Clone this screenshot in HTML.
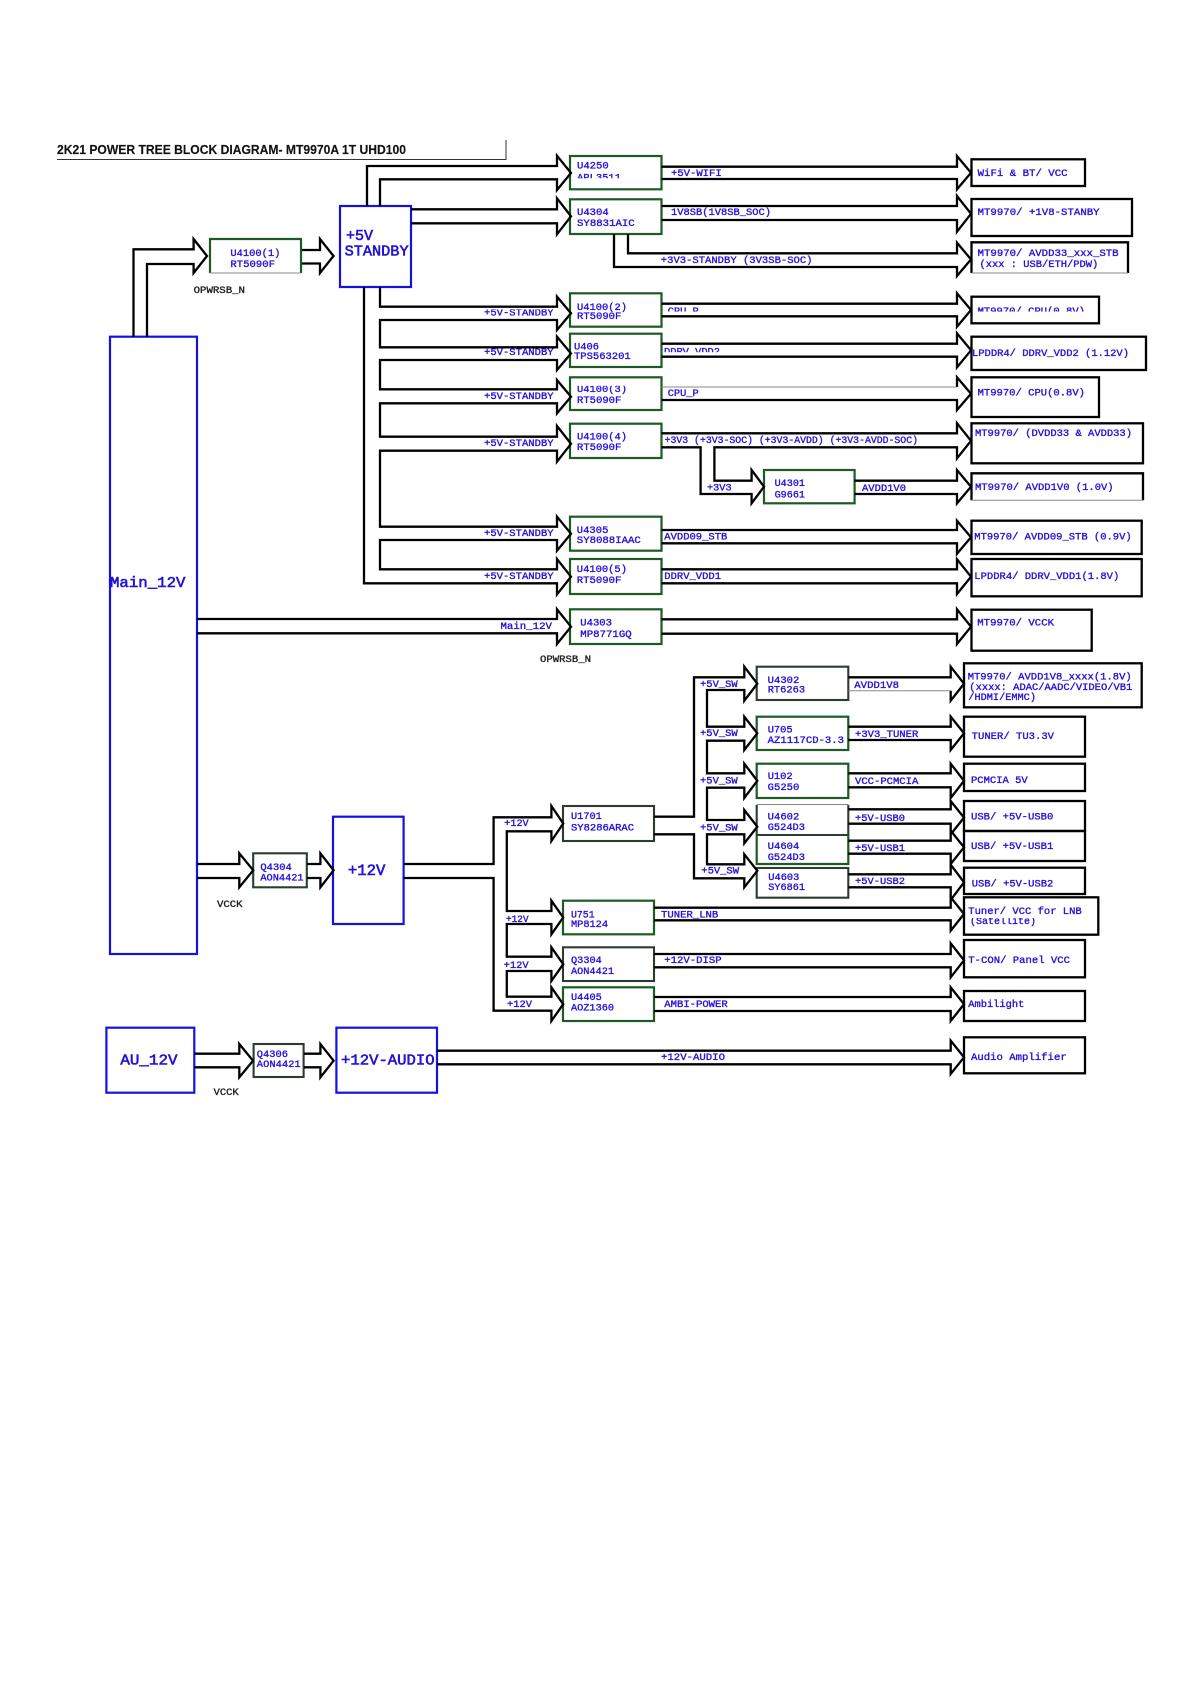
<!DOCTYPE html>
<html><head><meta charset="utf-8"><style>
html,body{margin:0;padding:0;background:#fff}
svg{display:block}
text{font-family:"Liberation Mono",monospace;font-size:10.5px;fill:#2412d6;stroke:#2412d6;stroke-width:.35}
text.k{fill:#222;stroke:#222}
text.b{font-size:15px;stroke-width:.6}
text.t{font-family:"Liberation Sans",sans-serif;font-weight:bold;font-size:12.5px;fill:#111;stroke:#111;stroke-width:.15}
.w{fill:#fff;stroke:none}
.a{fill:none;stroke:#000;stroke-width:2.3;stroke-linejoin:miter}
.bl{fill:none;stroke:#1512e0;stroke-width:2.2}
.g{fill:none;stroke:#1d5a24;stroke-width:2.2}
.d{fill:none;stroke:#2c3d30;stroke-width:2.1}
.n{fill:none;stroke:#000;stroke-width:2.3}
.th{fill:none;stroke:#888;stroke-width:1}
</style></head><body>
<svg width="1191" height="1684" viewBox="0 0 1191 1684" xmlns="http://www.w3.org/2000/svg">
<rect width="1191" height="1684" fill="#fff"/>
<text class="t" x="57" y="154" textLength="349" lengthAdjust="spacingAndGlyphs">2K21 POWER TREE BLOCK DIAGRAM- MT9970A 1T UHD100</text>

<!-- left -->
<text x="230.4" y="256" textLength="50" lengthAdjust="spacingAndGlyphs">U4100(1)</text>
<text x="230.4" y="267" textLength="44.6" lengthAdjust="spacingAndGlyphs">RT5090F</text>
<text class="k" x="193.6" y="293" textLength="51.4" lengthAdjust="spacingAndGlyphs">OPWRSB_N</text>
<text class="b" x="346" y="240" textLength="27" lengthAdjust="spacingAndGlyphs">+5V</text>
<text class="b" x="344.6" y="255.5" textLength="64" lengthAdjust="spacingAndGlyphs">STANDBY</text>
<text class="b" x="110" y="587" textLength="75.5" lengthAdjust="spacingAndGlyphs">Main_12V</text>
<text x="484" y="315.7" textLength="69.6" lengthAdjust="spacingAndGlyphs">+5V-STANDBY</text>
<text x="484" y="355.2" textLength="69.6" lengthAdjust="spacingAndGlyphs">+5V-STANDBY</text>
<text x="484" y="399.2" textLength="69.6" lengthAdjust="spacingAndGlyphs">+5V-STANDBY</text>
<text x="484" y="446.2" textLength="69.6" lengthAdjust="spacingAndGlyphs">+5V-STANDBY</text>
<text x="484" y="536.2" textLength="69.6" lengthAdjust="spacingAndGlyphs">+5V-STANDBY</text>
<text x="484" y="579.2" textLength="69.6" lengthAdjust="spacingAndGlyphs">+5V-STANDBY</text>
<text x="500.5" y="629.2" textLength="51.5" lengthAdjust="spacingAndGlyphs">Main_12V</text>
<text class="k" x="540" y="662.2" textLength="51" lengthAdjust="spacingAndGlyphs">OPWRSB_N</text>

<!-- column 570 -->
<text x="577" y="168.5" textLength="31.7" lengthAdjust="spacingAndGlyphs">U4250</text>
<text x="577" y="180.5" textLength="44" lengthAdjust="spacingAndGlyphs">APL3511</text>
<text x="577" y="215.2" textLength="31.7" lengthAdjust="spacingAndGlyphs">U4304</text>
<text x="577" y="226.2" textLength="57.7" lengthAdjust="spacingAndGlyphs">SY8831AIC</text>
<text x="577" y="309.8" textLength="50" lengthAdjust="spacingAndGlyphs">U4100(2)</text>
<text x="577" y="319.2" textLength="44.3" lengthAdjust="spacingAndGlyphs">RT5090F</text>
<text x="574" y="349.5" textLength="25" lengthAdjust="spacingAndGlyphs">U406</text>
<text x="574" y="359.2" textLength="56.7" lengthAdjust="spacingAndGlyphs">TPS563201</text>
<text x="577" y="392" textLength="50" lengthAdjust="spacingAndGlyphs">U4100(3)</text>
<text x="577" y="402.8" textLength="44.3" lengthAdjust="spacingAndGlyphs">RT5090F</text>
<text x="577" y="439.5" textLength="50" lengthAdjust="spacingAndGlyphs">U4100(4)</text>
<text x="577" y="450.2" textLength="44.3" lengthAdjust="spacingAndGlyphs">RT5090F</text>
<text x="774.6" y="486.2" textLength="30.4" lengthAdjust="spacingAndGlyphs">U4301</text>
<text x="774.6" y="497.5" textLength="30.4" lengthAdjust="spacingAndGlyphs">G9661</text>
<text x="576.8" y="532.8" textLength="31.6" lengthAdjust="spacingAndGlyphs">U4305</text>
<text x="576.8" y="543.2" textLength="64" lengthAdjust="spacingAndGlyphs">SY8088IAAC</text>
<text x="576.8" y="572.2" textLength="50.2" lengthAdjust="spacingAndGlyphs">U4100(5)</text>
<text x="576.8" y="582.8" textLength="44.6" lengthAdjust="spacingAndGlyphs">RT5090F</text>
<text x="580.3" y="625.5" textLength="31.7" lengthAdjust="spacingAndGlyphs">U4303</text>
<text x="580.3" y="636.8" textLength="51.4" lengthAdjust="spacingAndGlyphs">MP8771GQ</text>

<!-- rail labels -->
<text x="671" y="175.8" textLength="50.7" lengthAdjust="spacingAndGlyphs">+5V-WIFI</text>
<text x="671" y="215.2" textLength="100" lengthAdjust="spacingAndGlyphs">1V8SB(1V8SB_SOC)</text>
<text x="660.8" y="262.8" textLength="151.7" lengthAdjust="spacingAndGlyphs">+3V3-STANDBY  (3V3SB-SOC)</text>
<text x="667.7" y="314" textLength="31" lengthAdjust="spacingAndGlyphs">CPU_P</text>
<text x="664" y="354.5" textLength="56" lengthAdjust="spacingAndGlyphs">DDRV_VDD2</text>
<text x="667.7" y="395.8" textLength="31" lengthAdjust="spacingAndGlyphs">CPU_P</text>
<text x="664.6" y="442.8" textLength="253.4" lengthAdjust="spacingAndGlyphs">+3V3 (+3V3-SOC) (+3V3-AVDD) (+3V3-AVDD-SOC)</text>
<text x="707" y="490.5" textLength="24.6" lengthAdjust="spacingAndGlyphs">+3V3</text>
<text x="862" y="491.2" textLength="44" lengthAdjust="spacingAndGlyphs">AVDD1V0</text>
<text x="664.3" y="539.5" textLength="63" lengthAdjust="spacingAndGlyphs">AVDD09_STB</text>
<text x="664.3" y="579.2" textLength="56.7" lengthAdjust="spacingAndGlyphs">DDRV_VDD1</text>

<!-- targets -->
<text x="977.6" y="175.8" textLength="90" lengthAdjust="spacingAndGlyphs">WiFi &amp; BT/ VCC</text>
<text x="977.6" y="215.2" textLength="122" lengthAdjust="spacingAndGlyphs">MT9970/ +1V8-STANBY</text>
<text x="977.6" y="255.8" textLength="141" lengthAdjust="spacingAndGlyphs">MT9970/ AVDD33_xxx_STB</text>
<text x="979.5" y="266.8" textLength="118.8" lengthAdjust="spacingAndGlyphs">(xxx : USB/ETH/PDW)</text>
<text x="977.6" y="314" textLength="107.4" lengthAdjust="spacingAndGlyphs">MT9970/ CPU(0.8V)</text>
<text x="972" y="355.8" textLength="157" lengthAdjust="spacingAndGlyphs">LPDDR4/ DDRV_VDD2  (1.12V)</text>
<text x="977.6" y="395.5" textLength="107.4" lengthAdjust="spacingAndGlyphs">MT9970/ CPU(0.8V)</text>
<text x="975" y="435.8" textLength="157" lengthAdjust="spacingAndGlyphs">MT9970/  (DVDD33 &amp; AVDD33)</text>
<text x="975" y="490.2" textLength="138.6" lengthAdjust="spacingAndGlyphs">MT9970/ AVDD1V0  (1.0V)</text>
<text x="974.3" y="539.5" textLength="157.4" lengthAdjust="spacingAndGlyphs">MT9970/ AVDD09_STB  (0.9V)</text>
<text x="974.3" y="579.2" textLength="145" lengthAdjust="spacingAndGlyphs">LPDDR4/ DDRV_VDD1(1.8V)</text>
<text x="977.3" y="625.5" textLength="76.7" lengthAdjust="spacingAndGlyphs">MT9970/ VCCK</text>

<!-- lower tree -->
<text x="767.7" y="682.8" textLength="31.6" lengthAdjust="spacingAndGlyphs">U4302</text>
<text x="767.7" y="692.5" textLength="37.5" lengthAdjust="spacingAndGlyphs">RT6263</text>
<text x="700" y="687.2" textLength="37.7" lengthAdjust="spacingAndGlyphs">+5V_SW</text>
<text x="700" y="736.2" textLength="37.7" lengthAdjust="spacingAndGlyphs">+5V_SW</text>
<text x="700" y="783.5" textLength="37.7" lengthAdjust="spacingAndGlyphs">+5V_SW</text>
<text x="700" y="830.5" textLength="37.7" lengthAdjust="spacingAndGlyphs">+5V_SW</text>
<text x="701.3" y="873.5" textLength="37.7" lengthAdjust="spacingAndGlyphs">+5V_SW</text>
<text x="854.3" y="687.8" textLength="44.7" lengthAdjust="spacingAndGlyphs">AVDD1V8</text>
<text x="967.7" y="679.5" textLength="164" lengthAdjust="spacingAndGlyphs">MT9970/ AVDD1V8_xxxx(1.8V)</text>
<text x="969.3" y="690.2" textLength="163" lengthAdjust="spacingAndGlyphs">(xxxx: ADAC/AADC/VIDEO/VB1</text>
<text x="968.3" y="700.2" textLength="67.7" lengthAdjust="spacingAndGlyphs">/HDMI/EMMC)</text>
<text x="767.7" y="732.5" textLength="25" lengthAdjust="spacingAndGlyphs">U705</text>
<text x="767.7" y="742.8" textLength="76.3" lengthAdjust="spacingAndGlyphs">AZ1117CD-3.3</text>
<text x="855" y="736.8" textLength="63.3" lengthAdjust="spacingAndGlyphs">+3V3_TUNER</text>
<text x="971.7" y="739.2" textLength="82.3" lengthAdjust="spacingAndGlyphs">TUNER/ TU3.3V</text>
<text x="767.7" y="779.2" textLength="25" lengthAdjust="spacingAndGlyphs">U102</text>
<text x="767.7" y="790.2" textLength="31.6" lengthAdjust="spacingAndGlyphs">G5250</text>
<text x="855" y="784.2" textLength="63.3" lengthAdjust="spacingAndGlyphs">VCC-PCMCIA</text>
<text x="971" y="782.8" textLength="56.7" lengthAdjust="spacingAndGlyphs">PCMCIA 5V</text>
<text x="767.7" y="819.5" textLength="31.6" lengthAdjust="spacingAndGlyphs">U4602</text>
<text x="767.7" y="830.2" textLength="37.3" lengthAdjust="spacingAndGlyphs">G524D3</text>
<text x="855" y="820.8" textLength="50" lengthAdjust="spacingAndGlyphs">+5V-USB0</text>
<text x="971" y="819.5" textLength="82.3" lengthAdjust="spacingAndGlyphs">USB/ +5V-USB0</text>
<text x="767.7" y="849.2" textLength="31.6" lengthAdjust="spacingAndGlyphs">U4604</text>
<text x="767.7" y="860.2" textLength="37.3" lengthAdjust="spacingAndGlyphs">G524D3</text>
<text x="855" y="850.8" textLength="50" lengthAdjust="spacingAndGlyphs">+5V-USB1</text>
<text x="971" y="849.2" textLength="82.3" lengthAdjust="spacingAndGlyphs">USB/ +5V-USB1</text>
<text x="768.3" y="880.2" textLength="31" lengthAdjust="spacingAndGlyphs">U4603</text>
<text x="768.3" y="890.2" textLength="36.7" lengthAdjust="spacingAndGlyphs">SY6861</text>
<text x="855" y="884" textLength="50" lengthAdjust="spacingAndGlyphs">+5V-USB2</text>
<text x="971.7" y="886.5" textLength="81.6" lengthAdjust="spacingAndGlyphs">USB/ +5V-USB2</text>
<text x="968.3" y="914.2" textLength="113.4" lengthAdjust="spacingAndGlyphs">Tuner/ VCC for LNB</text>
<text x="970" y="924" textLength="66" lengthAdjust="spacingAndGlyphs">(Satellite)</text>
<text x="661" y="917.5" textLength="57.3" lengthAdjust="spacingAndGlyphs">TUNER_LNB</text>
<text x="664.3" y="962.8" textLength="57.4" lengthAdjust="spacingAndGlyphs">+12V-DISP</text>
<text x="968.3" y="962.8" textLength="101.7" lengthAdjust="spacingAndGlyphs">T-CON/ Panel VCC</text>
<text x="664.3" y="1006.8" textLength="63.4" lengthAdjust="spacingAndGlyphs">AMBI-POWER</text>
<text x="968.3" y="1006.8" textLength="56" lengthAdjust="spacingAndGlyphs">Ambilight</text>
<text x="661" y="1060.2" textLength="64" lengthAdjust="spacingAndGlyphs">+12V-AUDIO</text>
<text x="971" y="1060.2" textLength="95.7" lengthAdjust="spacingAndGlyphs">Audio Amplifier</text>

<text x="260.4" y="870.2" textLength="31.4" lengthAdjust="spacingAndGlyphs">Q4304</text>
<text x="260.4" y="880.5" textLength="43.2" lengthAdjust="spacingAndGlyphs">AON4421</text>
<text class="k" x="217" y="907.2" textLength="25.5" lengthAdjust="spacingAndGlyphs">VCCK</text>
<text class="b" x="347.9" y="875" textLength="37.5" lengthAdjust="spacingAndGlyphs" style="font-size:16px">+12V</text>
<text x="504.3" y="826.2" textLength="24.3" lengthAdjust="spacingAndGlyphs">+12V</text>
<text x="506" y="922" textLength="22.6" lengthAdjust="spacingAndGlyphs">+12V</text>
<text x="503.6" y="967.8" textLength="25" lengthAdjust="spacingAndGlyphs">+12V</text>
<text x="507" y="1006.8" textLength="25" lengthAdjust="spacingAndGlyphs">+12V</text>
<text x="571" y="819.2" textLength="30.8" lengthAdjust="spacingAndGlyphs">U1701</text>
<text x="571" y="830.5" textLength="63" lengthAdjust="spacingAndGlyphs">SY8286ARAC</text>
<text x="571" y="917.5" textLength="23.6" lengthAdjust="spacingAndGlyphs">U751</text>
<text x="571" y="926.8" textLength="37" lengthAdjust="spacingAndGlyphs">MP8124</text>
<text x="571" y="962.8" textLength="30.8" lengthAdjust="spacingAndGlyphs">Q3304</text>
<text x="571" y="973.8" textLength="43" lengthAdjust="spacingAndGlyphs">AON4421</text>
<text x="571" y="999.8" textLength="30.8" lengthAdjust="spacingAndGlyphs">U4405</text>
<text x="571" y="1010.5" textLength="43" lengthAdjust="spacingAndGlyphs">AOZ1360</text>
<text class="b" x="120.4" y="1064.5" textLength="57.1" lengthAdjust="spacingAndGlyphs">AU_12V</text>
<text x="256.8" y="1056.8" textLength="31.2" lengthAdjust="spacingAndGlyphs">Q4306</text>
<text x="256.8" y="1067.2" textLength="43.9" lengthAdjust="spacingAndGlyphs">AON4421</text>
<text class="k" x="213.6" y="1095.2" textLength="25" lengthAdjust="spacingAndGlyphs">VCCK</text>
<text class="b" x="341" y="1064.5" textLength="93.6" lengthAdjust="spacingAndGlyphs">+12V-AUDIO</text>

<!-- clipped text masks -->
<rect class="w" x="575" y="178.3" width="50" height="5"/>
<rect class="w" x="482" y="305" width="74" height="4.4"/>
<rect class="w" x="665" y="311.5" width="36" height="4"/>
<rect class="w" x="975" y="311.6" width="114" height="4.5"/>
<rect class="w" x="662" y="352.2" width="60" height="3.6"/>
<rect class="w" x="575" y="382" width="55" height="3.8"/>
<rect class="w" x="765" y="683.5" width="45" height="2.4"/>
<rect class="w" x="853" y="875.4" width="55" height="2.2"/>
<rect class="w" x="969" y="875.4" width="90" height="3"/>
<rect class="w" x="968" y="915.4" width="72" height="2.6"/>
<rect class="w" x="502" y="912" width="30" height="3.4"/>

<!-- header rule -->
<path d="M57 159.5H506V140" fill="none" stroke="#333" stroke-width="1"/>

<!-- blue blocks -->
<rect class="bl" x="340" y="206" width="71" height="81"/>
<rect class="bl" x="110" y="336.7" width="87" height="617.3"/>
<rect class="bl" x="333" y="816.7" width="70.6" height="107.3"/>
<rect class="bl" x="106.4" y="1027.7" width="87.9" height="65"/>
<rect class="bl" x="336.4" y="1027.7" width="100.6" height="65"/>

<!-- green blocks -->
<path class="g" d="M210 273V239H301V273"/><path class="th" d="M210 273H301"/>
<rect class="g" x="570" y="156" width="91.5" height="33.3"/>
<rect class="g" x="570" y="199.3" width="91.5" height="34.7"/>
<rect class="g" x="570" y="293.3" width="91.5" height="33.4"/>
<rect class="g" x="570" y="333.7" width="91.5" height="33.3"/>
<rect class="g" x="570" y="377.3" width="91.5" height="32.7"/>
<rect class="g" x="570" y="423.7" width="91.5" height="34.3"/>
<rect class="g" x="764" y="470" width="90.6" height="33.3"/>
<rect class="g" x="570" y="516.7" width="91.5" height="34"/>
<rect class="g" x="570" y="559" width="91.5" height="35"/>
<rect class="g" x="570" y="609.3" width="91.5" height="34.7"/>
<rect class="d" x="756.7" y="666.7" width="91.6" height="33.3"/>
<rect class="g" x="756.7" y="716.7" width="91.6" height="33.3"/>
<rect class="g" x="756.7" y="763.7" width="91.6" height="34.3"/>
<path class="d" d="M756.7 835V805M848.3 805V835H756.7"/><path class="th" d="M756.7 804.5H848.3"/>
<path class="g" d="M756.7 835V864H848.3V835"/>
<rect class="d" x="756.7" y="868" width="91.6" height="29.7"/>
<rect class="d" x="563" y="806" width="91" height="35"/>
<rect class="g" x="563" y="900.7" width="91" height="33.6"/>
<rect class="d" x="563" y="947.3" width="91" height="33.7"/>
<rect class="g" x="563" y="987.3" width="91" height="33.7"/>
<rect class="d" x="253.2" y="853.3" width="53.6" height="34"/>
<rect class="d" x="253.6" y="1044" width="50" height="33"/>

<!-- target blocks -->
<rect class="n" x="971.5" y="159.3" width="113.5" height="26.7"/>
<rect class="n" x="971.5" y="199" width="160.5" height="37"/>
<path class="n" d="M971.5 273V242.3H1128V273"/><path class="th" d="M971.5 273H1128"/>
<rect class="n" x="971.5" y="296.7" width="127.5" height="26.6"/>
<rect class="n" x="971.5" y="336.7" width="174.5" height="33.3"/>
<rect class="n" x="971.5" y="377.3" width="127.5" height="39.7"/>
<rect class="n" x="971.5" y="423.3" width="171.5" height="40"/>
<path class="n" d="M971.5 500.3V473.3H1143V500.3"/><path class="th" d="M971.5 500.3H1143"/>
<rect class="n" x="971.5" y="520.7" width="170.2" height="33.3"/>
<rect class="n" x="971.5" y="559" width="170.2" height="37.3"/>
<rect class="n" x="971.5" y="609.7" width="120.2" height="41"/>
<rect class="n" x="964" y="663.3" width="177.7" height="44"/>
<rect class="n" x="964" y="716.7" width="121" height="40"/>
<rect class="n" x="964" y="763.7" width="121" height="27.3"/>
<rect class="n" x="964" y="801" width="121" height="30"/>
<rect class="n" x="964" y="831" width="121" height="30"/>
<rect class="n" x="964" y="867.7" width="121" height="26.3"/>
<rect class="n" x="964" y="897.3" width="134.3" height="37.4"/>
<rect class="n" x="964" y="940" width="121" height="37.3"/>
<rect class="n" x="964" y="991" width="121" height="30"/>
<rect class="n" x="964" y="1037.3" width="121" height="36"/>

<!-- upper arrows -->
<path class="a" d="M133.5 337V249.3H193.6V239L207 256L193.6 273V264H147V337"/>
<path class="a" d="M302 250H320V239L333.5 256L320 273V263.5H302"/>
<path class="a" d="M367 206V166H557V155.7L571 173L557 190V179.3H380V206"/>
<path class="a" d="M411 209.3H557V198.3L571 216.3L557 234.3V223.3H411"/>
<path class="a" d="M661.5 166.7H957V156L971 172.7L957 189.3V179H661.5"/>
<path class="a" d="M661.5 206H957V196L971 213.8L957 231.7V220H661.5"/>
<path class="a" d="M628 234V253.3H957V242.7L971 259.4L957 276V267H614V234"/>
<path class="a" d="M380 287V306.7H557V296.7L571 313.3L557 330V320H380V347.3H557V336.7L571 353.5L557 370V360H380V389.3H557V380L571 396.7L557 413.3V403.3H380V436.7H557V426L571 443.8L557 461.7V450.7H380V526.7H557V516.7L571 533.7L557 550.7V540H380V569.3H557V559L571 576.7L557 594.3V583.3H364V287"/>
<path class="a" d="M661.5 303.7H957V293.3L971 310L957 326.7V316.3H661.5"/>
<path class="a" d="M661.5 343.7H957V333.3L971 350.3L957 367.3V356.7H661.5"/>
<path class="a" d="M957 387V377.3L971 393.7L957 410V400H661.5"/>
<path class="th" d="M661.5 387H957"/>
<path class="a" d="M661.5 447.3H700.6V494H751.6V503.3L764 486.7L751.6 470V480.7H714.4V447.3H957V458.3L971 440.8L957 423.3V433.3H661.5"/>
<path class="a" d="M854.6 480.7H957V470L971 486.7L957 503.3V494H854.6"/>
<path class="a" d="M661.5 530H957V520.7L971 537.2L957 553.7V543.3H661.5"/>
<path class="a" d="M661.5 569.3H957V559.3L971 576.7L957 594V583.3H661.5"/>
<path class="a" d="M197 619H557V609.3L571 626.7L557 644V633.3H197"/>
<path class="a" d="M661.5 619.3H957V609.3L971 626.7L957 644V633.7H661.5"/>

<!-- 5V_SW tree -->
<path class="a" d="M654 816.7H694V677.3H744.3V666.7L757.3 683.7L744.3 700.7V690H707V726.7H744.3V716.7L757.3 733.3L744.3 750V740.7H707V773.3H744.3V763.7L757.3 780.8L744.3 798V787.7H707V820H744.3V810L757.3 826.7L744.3 843.3V834.3H707V864.3H744.3V854.3L757.3 870.8L744.3 887.3V878.3H694V834.3H654"/>
<path class="a" d="M848.3 677.3H950.7V666.7L964 683.7L950.7 700.7V690.7"/>
<path class="th" d="M848.3 690.7H950.7"/>
<path class="a" d="M848.3 726.7H950.7V716.7L964 733.3L950.7 750V740H848.3"/>
<path class="a" d="M848.3 773.3H950.7V763.7L964 780.8L950.7 798V787.3H848.3"/>
<path class="a" d="M848.3 809.3H950.7V801L964 817.6L950.7 834.3V823.7H848.3"/>
<path class="a" d="M848.3 840.7H950.7V830.7L964 847.3L950.7 864V853.7H848.3"/>
<path class="a" d="M848.3 874.3H950.7V864.7L964 882.3L950.7 900V887.3H848.3"/>

<!-- 12V tree -->
<path class="a" d="M197 864H239.3V853.3L253.2 870.3L239.3 887.3V878H197"/>
<path class="a" d="M307 864H320.4V853.3L333.6 870.3L320.4 887.3V878H307"/>
<path class="a" d="M403.6 864H493.6V817.3H551.4V806L563.2 823.5L551.4 841V831.3H506.8V911H551.4V900.7L563.2 917.5L551.4 934.3V924H506.8V956.7H551.4V947.3L563.2 964.2L551.4 981V971H506.8V996.7H551.4V987.3L563.2 1004.2L551.4 1021V1010.7H493.6V878H403.6"/>
<path class="a" d="M654 907.7H950.7V897.3L964 914L950.7 930.7V920.3H654"/>
<path class="a" d="M654 954H950.7V943.3L964 960.3L950.7 977.3V967.3H654"/>
<path class="a" d="M654 997H950.7V987.3L964 1004.2L950.7 1021V1011H654"/>

<!-- audio -->
<path class="a" d="M194.3 1053.7H239.3V1044L253 1060.7L239.3 1077.3V1067.3H194.3"/>
<path class="a" d="M304 1053.7H320.4V1044L333.6 1060.7L320.4 1077.3V1067.3H304"/>
<path class="a" d="M437 1050.7H950.7V1040.7L964 1057.3L950.7 1074V1064.3H437"/>
</svg>
</body></html>
